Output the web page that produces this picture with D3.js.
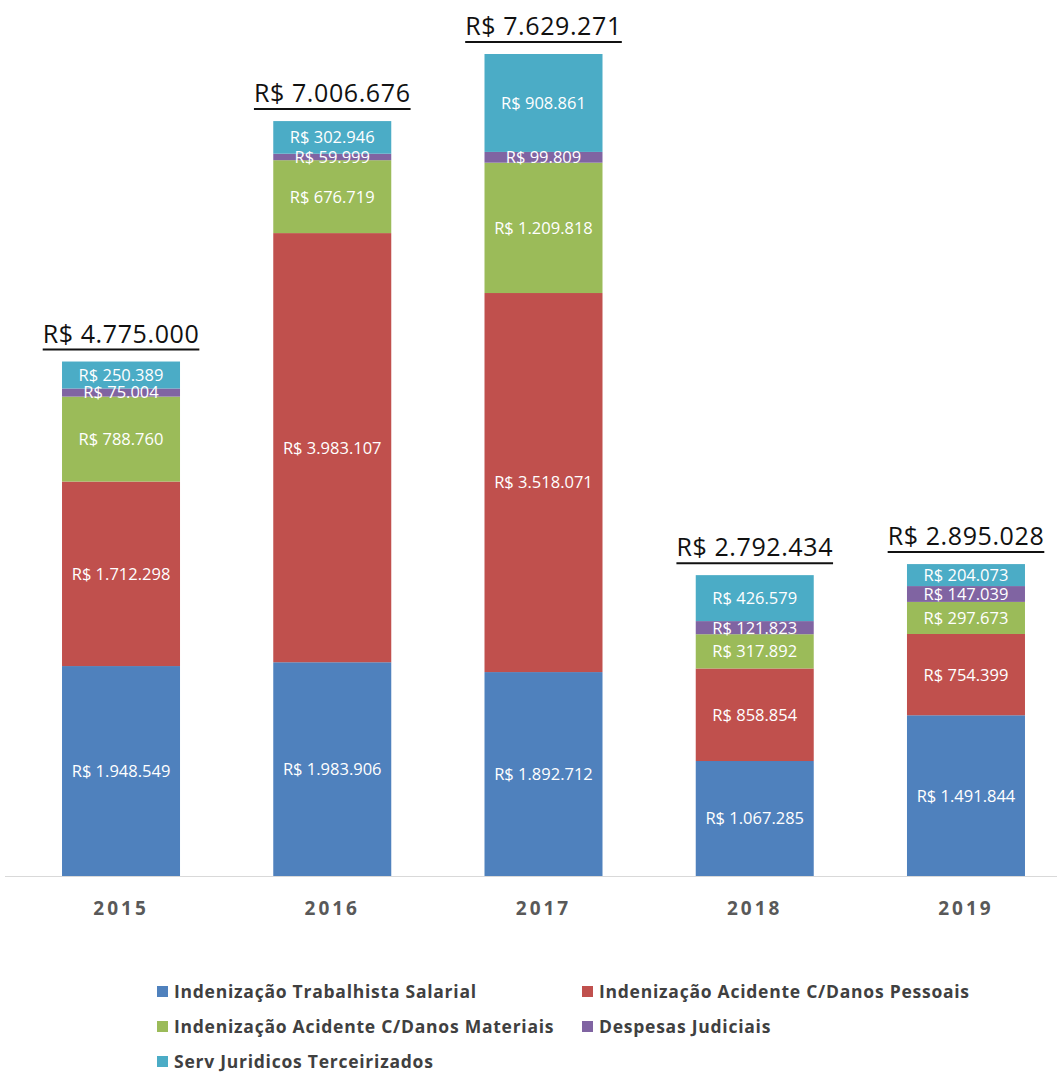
<!DOCTYPE html>
<html>
<head>
<meta charset="utf-8">
<script src="https://cdn.jsdelivr.net/npm/d3@7"></script>
<style>
  html, body { margin: 0; padding: 0; background: #fff; }
  svg { display: block; font-family: "Open Sans", "Noto Sans", sans-serif; }
</style>
</head>
<body>
<svg id="chart" width="1057" height="1075"></svg>
<script>
// Years along the x axis
const years = ["2015", "2016", "2017", "2018", "2019"];

// Series, bottom to top of each stack
const seriesNames = [
  "Indenização Trabalhista Salarial",
  "Indenização Acidente C/Danos Pessoais",
  "Indenização Acidente C/Danos Materiais",
  "Despesas Judiciais",
  "Serv Juridicos Terceirizados"
];
const trabalhistaSalarial = [1948549, 1983906, 1892712, 1067285, 1491844];
const danosPessoais       = [1712298, 3983107, 3518071,  858854,  754399];
const danosMateriais      = [ 788760,  676719, 1209818,  317892,  297673];
const despesasJudiciais   = [  75004,   59999,   99809,  121823,  147039];
const servJuridicos       = [ 250389,  302946,  908861,  426579,  204073];

// Yearly totals shown above the stacks
const totals = [4775000, 7006676, 7629271, 2792434, 2895028];

const colors = ["#4F81BD", "#C0504D", "#9BBB59", "#8064A2", "#4BACC6"];

const seriesValues = [trabalhistaSalarial, danosPessoais, danosMateriais, despesasJudiciais, servJuridicos];
const keys = ["s0", "s1", "s2", "s3", "s4"];
const rows = years.map((yr, i) => {
  const r = { year: yr };
  keys.forEach((k, j) => r[k] = seriesValues[j][i]);
  return r;
});

const fmt = v => "R$ " + d3.format(",")(v).replace(/,/g, ".");

const svg = d3.select("#chart");

const baseY = 876, topY = 54;
const x = d3.scaleBand()
  .domain(years)
  .range([15.4, 1071.6])
  .paddingInner(0.4414)
  .paddingOuter(0.2207);

const y = d3.scaleLinear()
  .domain([0, d3.max(totals)])
  .range([baseY, topY]);

const stacked = d3.stack().keys(keys)(rows);

// Stacked segments
const layers = svg.append("g").selectAll("g")
  .data(stacked)
  .join("g")
  .attr("fill", (d, i) => colors[i]);

layers.selectAll("rect")
  .data(d => d)
  .join("rect")
  .attr("x", d => x(d.data.year))
  .attr("width", x.bandwidth())
  .attr("y", d => y(d[1]))
  .attr("height", d => y(d[0]) - y(d[1]));

// Value labels inside each segment
const labelG = svg.append("g")
  .attr("fill", "#fff")
  .attr("font-size", 16.5)
  .attr("text-anchor", "middle");

stacked.forEach((layer, j) => {
  layer.forEach((d, i) => {
    labelG.append("text")
      .attr("x", x(d.data.year) + x.bandwidth() / 2)
      .attr("y", (y(d[0]) + y(d[1])) / 2)
      .attr("dy", "0.36em")
      .text(fmt(seriesValues[j][i]));
  });
});

// Baseline
svg.append("line")
  .attr("x1", 5).attr("x2", 1057)
  .attr("y1", baseY + 0.5).attr("y2", baseY + 0.5)
  .attr("stroke", "#d9d9d9")
  .attr("stroke-width", 1.2);

// Year labels
const xAxis = d3.axisBottom(x).tickSize(0).tickPadding(0);
const axisG = svg.append("g")
  .attr("transform", `translate(0,${baseY})`)
  .call(xAxis);
axisG.select(".domain").remove();
axisG.selectAll("text")
  .attr("y", 39)
  .attr("dy", 0)
  .attr("font-family", "'Open Sans', sans-serif")
  .attr("font-size", 19)
  .attr("font-weight", 700)
  .attr("letter-spacing", "3px")
  .attr("fill", "#595959");

// Totals above each stack, underlined
const totalG = svg.append("g");
years.forEach((yr, i) => {
  const cx = x(yr) + x.bandwidth() / 2;
  const ty = y(totals[i]);
  const t = totalG.append("text")
    .attr("x", cx)
    .attr("y", ty - 19)
    .attr("text-anchor", "middle")
    .attr("font-size", 25)
    .attr("letter-spacing", "0.6px")
    .attr("fill", "#111")
    .text(fmt(totals[i]));
  const bb = t.node().getBBox();
  totalG.append("line")
    .attr("x1", bb.x).attr("x2", bb.x + bb.width)
    .attr("y1", ty - 12).attr("y2", ty - 12)
    .attr("stroke", "#111")
    .attr("stroke-width", 2);
});

// Legend
const legendCols = [157, 582];
const legendRows = [992, 1027, 1062];
const legend = svg.append("g");
seriesNames.forEach((name, i) => {
  const lx = legendCols[i % 2];
  const ly = legendRows[Math.floor(i / 2)];
  legend.append("rect")
    .attr("x", lx).attr("y", ly - 6)
    .attr("width", 11).attr("height", 11)
    .attr("fill", colors[i]);
  legend.append("text")
    .attr("x", lx + 17)
    .attr("y", ly)
    .attr("dy", "0.36em")
    .attr("font-size", 17.5)
    .attr("font-weight", 700)
    .attr("letter-spacing", "0.75px")
    .attr("fill", "#404040")
    .text(name);
});
</script>
</body>
</html>
